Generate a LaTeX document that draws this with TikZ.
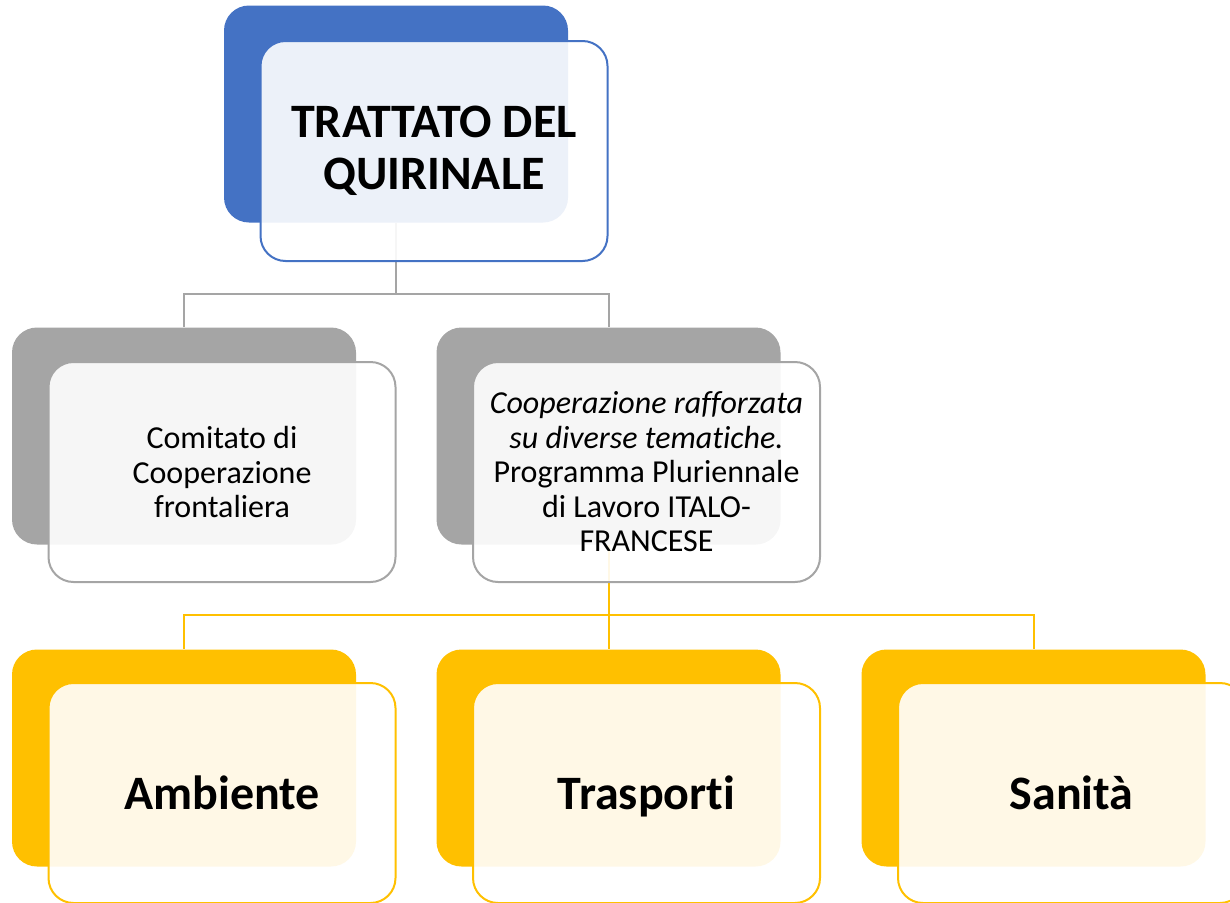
\documentclass[tikz,border=0pt]{standalone}
\usepackage{fontspec}
\setmainfont{Carlito}[Ligatures=NoCommon]
\usepackage{xcolor}
\definecolor{smblue}{HTML}{4472C4}
\definecolor{smgray}{HTML}{A5A5A5}
\definecolor{smgold}{HTML}{FFC000}
\usepackage{tikz}
\usetikzlibrary{positioning}
\usetikzlibrary{backgrounds}

\tikzset{
  backbox/.style={rectangle,rounded corners=25pt,fill=#1,minimum width=344pt,minimum height=217pt,inner sep=0pt},
  frontbox/.style={rectangle,rounded corners=25pt,draw=#1,line width=2pt,fill=white,fill opacity=0.9,text opacity=1,
    minimum width=347pt,minimum height=220pt,inner sep=0pt,align=center},
  link/.style={draw=#1,line width=2pt},
  titlefont/.style={font=\bfseries\fontsize{48}{52}\selectfont},
  midfont/.style={font=\fontsize{32}{34.5}\selectfont},
  themefont/.style={font=\bfseries\fontsize{48}{52}\selectfont,text height=40pt,text depth=8pt},
}

\begin{document}
\begin{tikzpicture}[x=1pt,y=-1pt]
\clip (0,0) rectangle (1230,902);

\node[backbox=smblue] (trattatoback) at (396,114) {};
\node[frontbox=smblue,titlefont] (trattato) at ([shift={(38,37)}]trattatoback.center) {TRATTATO DEL\\QUIRINALE};

\node[backbox=smgray] (comitatoback) at (184,436) {};
\node[frontbox=smgray,midfont] (comitato) at ([shift={(38,36)}]comitatoback.center) {Comitato di\\Cooperazione\\frontaliera};
\node[backbox=smgray] (programmaback) at (608.5,436) {};
\node[frontbox=smgray,midfont] (programma) at ([shift={(38,36)}]programmaback.center)
  {\textit{Cooperazione rafforzata}\\\textit{su diverse tematiche.}\\Programma Pluriennale\\di Lavoro ITALO-\\FRANCESE};

\node[backbox=smgold] (ambienteback) at (184,758) {};
\node[frontbox=smgold,themefont] (ambiente) at ([shift={(38,35)}]ambienteback.center) {Ambiente};
\node[backbox=smgold] (trasportiback) at (608.5,758) {};
\node[frontbox=smgold,themefont] (trasporti) at ([shift={(38,35)}]trasportiback.center) {Trasporti};
\node[backbox=smgold] (sanitaback) at (1033.5,758) {};
\node[frontbox=smgold,themefont] (sanita) at ([shift={(38,35)}]sanitaback.center) {Sanità};

\begin{scope}[on background layer]
\draw[link=smgray] (trattatoback.south) -- ++(0,71) -| (comitatoback.north);
\draw[link=smgray] (trattatoback.south) -- ++(0,71) -| (programmaback.north);
\draw[link=smgold] (programmaback.south) -- ++(0,70) -| (ambienteback.north);
\draw[link=smgold] (programmaback.south) -- ++(0,70) -| (trasportiback.north);
\draw[link=smgold] (programmaback.south) -- ++(0,70) -| (sanitaback.north);
\end{scope}
\end{tikzpicture}
\end{document}
